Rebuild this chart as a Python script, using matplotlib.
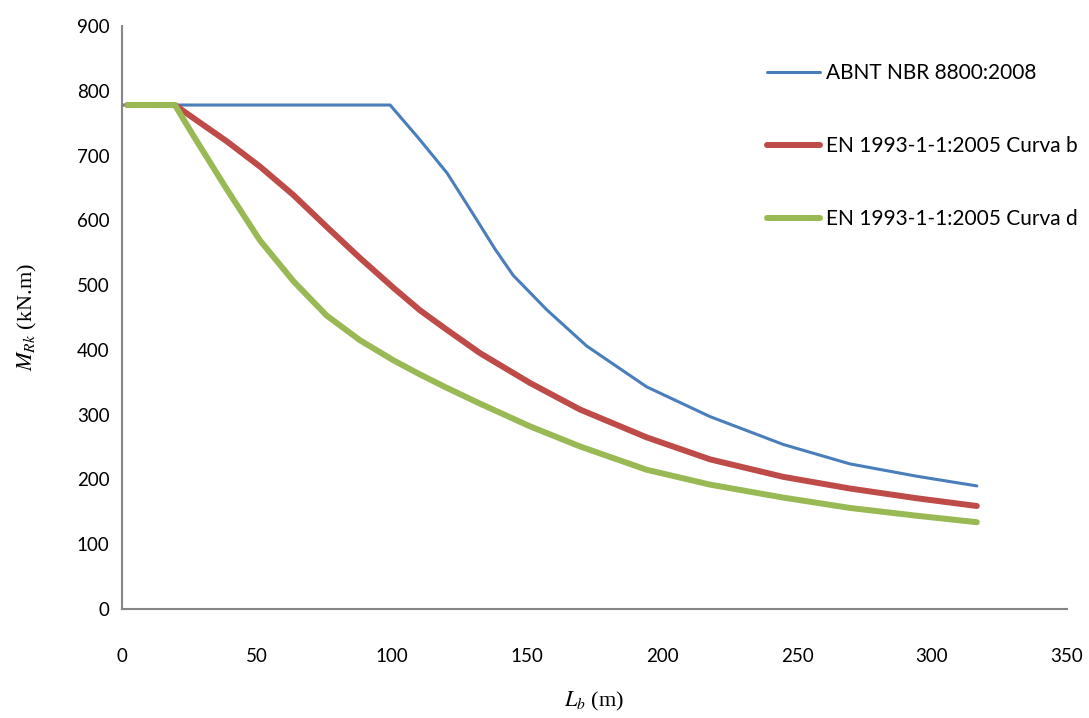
import numpy as np
import matplotlib

matplotlib.use('Agg')
import matplotlib.pyplot as plt

plt.rcParams['font.family'] = ['Lato', 'DejaVu Sans']
plt.rcParams['mathtext.fontset'] = 'stix'

# ABNT NBR 8800:2008
lb_abnt = [0, 19, 60, 95, 99.3, 110, 120.4, 130, 138.1, 144.9, 157.3, 172.1, 194.3,
           217.8, 244.9, 269.6, 294.3, 316.6]
m_abnt = [778, 778, 778, 778, 778, 726, 673, 610, 556, 515, 462, 406, 343,
          297, 254, 224, 205, 190]

# EN 1993-1-1:2005 Curva b
lb_b = [2, 19.6, 26.4, 38.8, 51.1, 63.5, 75.8, 88.1, 100.5, 110.4, 120, 132.6,
        151.1, 169.6, 194.3, 217.8, 244.9, 269.6, 294.3, 316.6]
m_b = [778, 778, 758, 722, 683, 639, 590, 542, 496, 461, 432, 395,
       349, 308, 265, 231, 204, 186, 171, 159]

# EN 1993-1-1:2005 Curva d
lb_d = [2, 19.6, 26.4, 38.8, 51.1, 63.5, 75.8, 88.1, 100.5, 110.4, 120, 132.6,
        151.1, 169.6, 194.3, 217.8, 244.9, 269.6, 294.3, 316.6]
m_d = [778, 778, 731, 648, 569, 506, 453, 415, 384, 362, 342, 317,
       282, 251, 215, 192, 172, 156, 144, 134]

labels = ['ABNT NBR 8800:2008', 'EN 1993-1-1:2005 Curva b', 'EN 1993-1-1:2005 Curva d']
colors = ['#4A7EBB', '#BE4B48', '#98B954']

fig = plt.figure(figsize=(10.89, 7.18), dpi=100)
ax = fig.add_axes([122 / 1089, 1 - 609 / 718, (1067 - 122) / 1089, (609 - 26) / 718])

ax.plot(lb_abnt, m_abnt, color=colors[0], linewidth=2.2, label=labels[0],
        solid_capstyle='round', solid_joinstyle='round')
ax.plot(lb_b, m_b, color=colors[1], linewidth=4.3, label=labels[1],
        solid_capstyle='round', solid_joinstyle='round')
ax.plot(lb_d, m_d, color=colors[2], linewidth=4.3, label=labels[2],
        solid_capstyle='round', solid_joinstyle='round')

ax.set_xlim(0, 350)
ax.set_ylim(0, 900)
ax.set_xticks(np.arange(0, 351, 50))
ax.set_yticks(np.arange(0, 901, 100))
ax.tick_params(length=0, labelsize=13.5, colors='black')
ax.tick_params(axis='x', pad=28)
ax.tick_params(axis='y', pad=9)

for side in ['top', 'right']:
    ax.spines[side].set_visible(False)
for side in ['left', 'bottom']:
    ax.spines[side].set_color('#868686')
    ax.spines[side].set_linewidth(1.5)

ax.set_xlabel(r'$L_b$ (m)', fontsize=16, family='Liberation Serif', labelpad=18)
ax.set_ylabel(r'$M_{Rk}$ (kN.m)', fontsize=16, family='Liberation Serif', labelpad=27)

leg = ax.legend(loc='upper left', bbox_to_anchor=(767 / 1089, 1 - 63 / 718),
                bbox_transform=fig.transFigure, frameon=False, fontsize=15,
                borderpad=0, borderaxespad=0, handlelength=2.55, handletextpad=0.3,
                labelspacing=2.55)
for line in leg.get_lines():
    line.set_solid_capstyle('round')

plt.savefig('out.png', dpi=100)
plt.close()
